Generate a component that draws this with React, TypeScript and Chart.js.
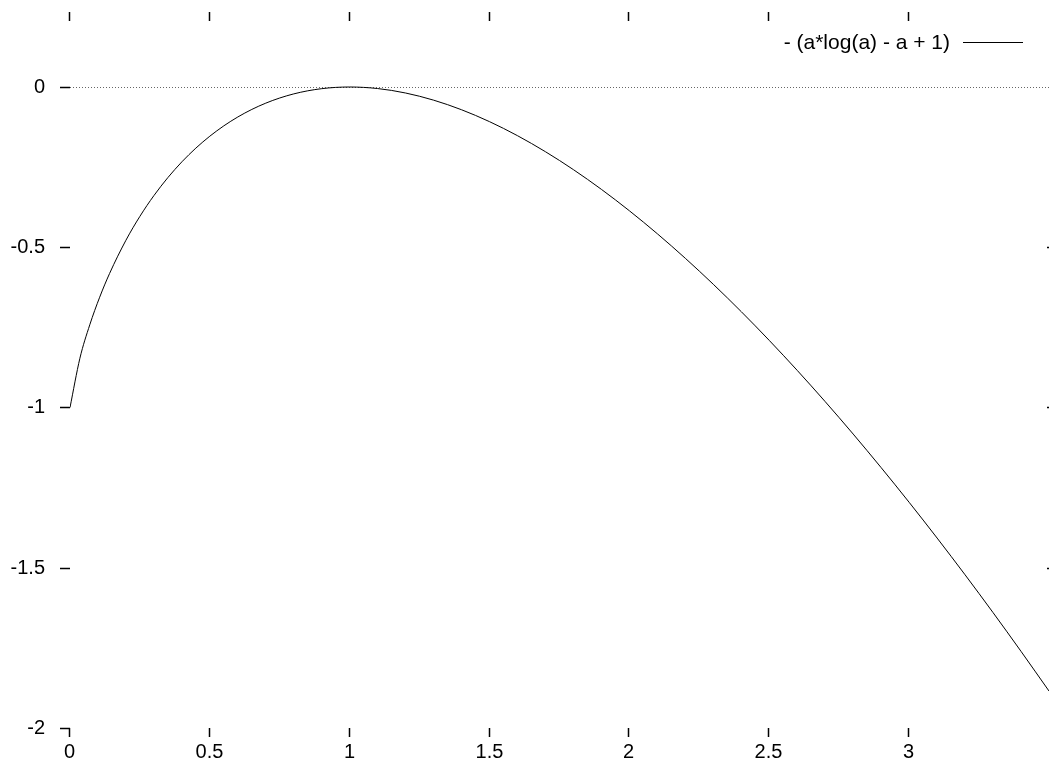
import React, { useEffect, useRef } from "react";
import { Chart, registerables } from "chart.js";

Chart.register(...registerables);

const aValues = [
  0, 0.0354, 0.0707, 0.1061, 0.1414, 0.2, 0.25, 0.3, 0.35, 0.4, 0.45, 0.5, 0.55, 0.6, 0.65, 0.7, 0.75, 0.8, 0.85,
  0.9, 0.95, 1.0, 1.1, 1.2, 1.3, 1.4, 1.5, 1.6, 1.7, 1.8, 1.9, 2.0, 2.1, 2.2, 2.3, 2.4, 2.5, 2.6, 2.7, 2.8, 2.9,
  3.0, 3.1, 3.2, 3.3, 3.4, 3.5,
];
const curveValues = [
  -1, -0.84633, -0.74199, -0.65589, -0.58199, -0.47811, -0.40343, -0.33881, -0.28256, -0.23348, -0.19067, -0.15343,
  -0.12119, -0.0935, -0.06999, -0.05033, -0.03424, -0.02149, -0.01186, -0.00518, -0.00127, 0, -0.00484, -0.01879,
  -0.04107, -0.07106, -0.1082, -0.15201, -0.20207, -0.25802, -0.31952, -0.38629, -0.45807, -0.53461, -0.61569,
  -0.70113, -0.79073, -0.88433, -0.98178, -1.08293, -1.18766, -1.29584, -1.40735, -1.52208, -1.63995, -1.76084,
  -1.88467,
];
const xTicks = [0, 0.5, 1, 1.5, 2, 2.5, 3];
const xTickLabels = ["0", "0.5", "1", "1.5", "2", "2.5", "3"];
const yTicks = [0, -0.5, -1, -1.5, -2];
const yTickLabels = ["0", "-0.5", "-1", "-1.5", "-2"];
const legendLabel = "- (a*log(a) - a + 1)";

const TICK_FONT = "20px 'Liberation Sans', Arial, sans-serif";
const LEGEND_FONT = "21px 'Liberation Sans', Arial, sans-serif";

const gnuplotAxes = {
  id: "gnuplotAxes",
  beforeDatasetsDraw(chart: any) {
    const { ctx, chartArea, scales } = chart;
    const y = scales.y;
    ctx.save();
    ctx.strokeStyle = "#666";
    ctx.lineWidth = 1;
    ctx.setLineDash([1, 2]);
    const y0 = Math.round(y.getPixelForValue(0)) + 0.5;
    ctx.beginPath();
    ctx.moveTo(chartArea.left, y0);
    ctx.lineTo(chartArea.right, y0);
    ctx.stroke();
    ctx.restore();
  },
  afterDraw(chart: any) {
    const { ctx, chartArea, scales } = chart;
    const x = scales.x;
    const y = scales.y;
    ctx.save();
    ctx.strokeStyle = "#000";
    ctx.lineWidth = 1.5;
    ctx.fillStyle = "#000";
    ctx.font = TICK_FONT;
    ctx.textAlign = "right";
    ctx.textBaseline = "middle";
    yTicks.forEach((v, i) => {
      const py = Math.round(y.getPixelForValue(v)) + 0.5;
      ctx.beginPath();
      ctx.moveTo(chartArea.left - 10, py);
      ctx.lineTo(chartArea.left, py);
      ctx.stroke();
      if (v !== 0 && v !== -2) {
        ctx.beginPath();
        ctx.moveTo(chartArea.right - 2, py);
        ctx.lineTo(chartArea.right, py);
        ctx.stroke();
      }
      ctx.fillText(yTickLabels[i], chartArea.left - 25, py);
    });
    ctx.textAlign = "center";
    ctx.textBaseline = "middle";
    xTicks.forEach((v, i) => {
      const px = Math.round(x.getPixelForValue(v)) - 0.5;
      ctx.beginPath();
      ctx.moveTo(px, chartArea.bottom);
      ctx.lineTo(px, chartArea.bottom + 9);
      ctx.stroke();
      ctx.beginPath();
      ctx.moveTo(px, chartArea.top);
      ctx.lineTo(px, chartArea.top + 9);
      ctx.stroke();
      ctx.fillText(xTickLabels[i], px, chartArea.bottom + 24);
    });
    ctx.font = LEGEND_FONT;
    ctx.textAlign = "right";
    ctx.textBaseline = "middle";
    ctx.fillText(legendLabel, 950, 43);
    ctx.lineWidth = 1;
    ctx.beginPath();
    ctx.moveTo(963, 42.5);
    ctx.lineTo(1023, 42.5);
    ctx.stroke();
    ctx.restore();
  },
};

export default function App() {
  const canvasRef = useRef<HTMLCanvasElement | null>(null);
  useEffect(() => {
    document.body.style.margin = "0";
    const canvas = canvasRef.current;
    if (!canvas) return;
    const chart = new Chart(canvas, {
      type: "line",
      data: {
        datasets: [
          {
            label: legendLabel,
            data: aValues.map((a, i) => ({ x: a, y: curveValues[i] })),
            borderColor: "#000",
            borderWidth: 1,
            pointRadius: 0,
            cubicInterpolationMode: "monotone",
            fill: false,
          },
        ],
      },
      options: {
        animation: false,
        responsive: false,
        layout: { padding: { left: 70, right: 1, top: 12, bottom: 40 } },
        plugins: { legend: { display: false }, tooltip: { enabled: false } },
        scales: {
          x: { type: "linear", min: 0, max: 3.5, display: false },
          y: { type: "linear", min: -2, max: 0.234, display: false },
        },
      },
      plugins: [gnuplotAxes],
    });
    return () => chart.destroy();
  }, []);
  return (
    <div style={{ position: "fixed", left: 0, top: 0, width: 1050, height: 768, background: "#fff" }}>
      <canvas ref={canvasRef} width={1050} height={768} style={{ display: "block" }} />
    </div>
  );
}
